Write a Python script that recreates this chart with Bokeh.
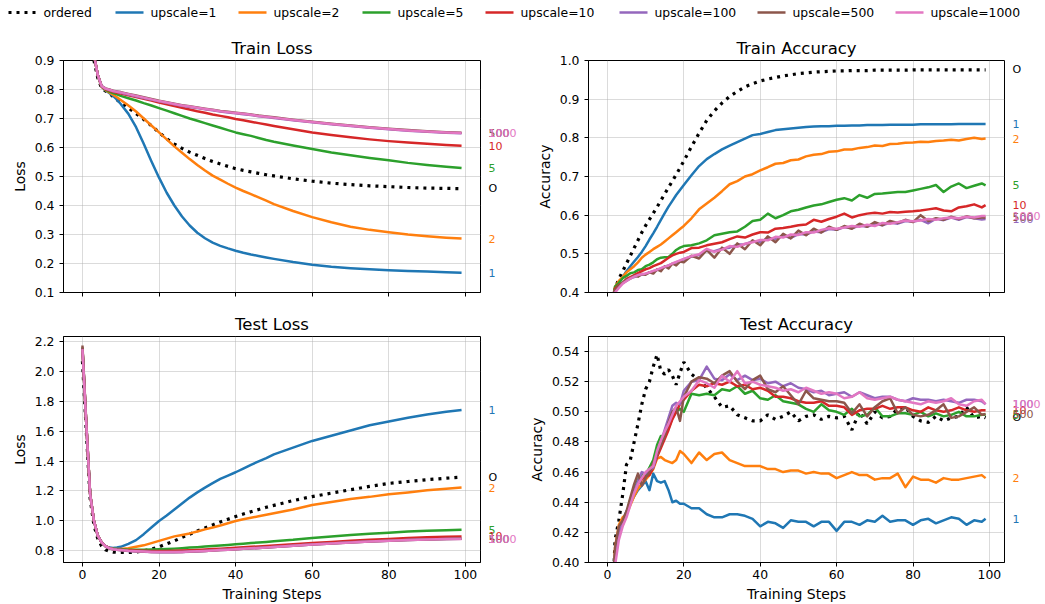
from bokeh.plotting import figure
from bokeh.layouts import column, row
from bokeh.models import FixedTicker, Range1d, PrintfTickFormatter, ColumnDataSource
from bokeh.core.properties import value
from bokeh.embed import file_html
from bokeh.resources import INLINE

FONT = "DejaVu Sans"

SERIES = ["ordered", "upscale=1", "upscale=2", "upscale=5", "upscale=10",
          "upscale=100", "upscale=500", "upscale=1000"]
END_TAGS = ["O", "1", "2", "5", "10", "100", "500", "1000"]
COLORS = ["#000000", "#1f77b4", "#ff7f0e", "#2ca02c", "#d62728",
          "#9467bd", "#8c564b", "#e377c2"]

X_TICKS = [0, 20, 40, 60, 80, 100]

# training steps at which values were read
X_LOSS = [0, 1, 2, 3, 4, 5, 6, 7, 8, 9,
          10, 12, 14, 16, 18, 20, 22, 24, 26, 28,
          30, 32, 34, 36, 38, 40, 42, 44, 46, 48,
          50, 55, 60, 65, 70, 75, 80, 85, 90, 95,
          99]
X_ACC = [0, 1, 2, 3, 4, 5, 6, 7, 8, 9,
         10, 11, 12, 13, 14, 15, 16, 17, 18, 19,
         20, 22, 24, 26, 28, 30, 32, 34, 36, 38,
         40, 42, 44, 46, 48, 50, 52, 54, 56, 58,
         60, 62, 64, 66, 68, 70, 72, 74, 76, 78,
         80, 82, 84, 86, 88, 90, 92, 94, 96, 98,
         99]

# ---------------- Train Loss ----------------
TRL_ORD = [1.45, 1.10, 0.96, 0.90, 0.84, 0.805, 0.795, 0.787, 0.776, 0.765,
           0.755, 0.737, 0.717, 0.697, 0.675, 0.652, 0.63, 0.612, 0.597, 0.584,
           0.573, 0.562, 0.552, 0.543, 0.535, 0.527, 0.521, 0.516, 0.511, 0.506,
           0.502, 0.492, 0.484, 0.477, 0.472, 0.468, 0.465, 0.462, 0.46, 0.459,
           0.458]
TRL_1 = [1.50, 1.15, 0.98, 0.92, 0.85, 0.81, 0.797, 0.788, 0.778, 0.765,
         0.75, 0.716, 0.67, 0.613, 0.553, 0.496, 0.444, 0.4, 0.362, 0.331,
         0.306, 0.287, 0.272, 0.261, 0.252, 0.244, 0.237, 0.231, 0.226, 0.221,
         0.216, 0.205, 0.196, 0.189, 0.184, 0.18, 0.177, 0.174, 0.172, 0.17,
         0.168]
TRL_2 = [1.50, 1.15, 0.98, 0.92, 0.85, 0.81, 0.798, 0.79, 0.782, 0.773,
         0.764, 0.745, 0.724, 0.70, 0.676, 0.652, 0.628, 0.604, 0.582, 0.56,
         0.54, 0.521, 0.503, 0.489, 0.475, 0.462, 0.45, 0.439, 0.428, 0.417,
         0.405, 0.381, 0.36, 0.342, 0.327, 0.316, 0.308, 0.30, 0.294, 0.289,
         0.286]
TRL_5 = [1.50, 1.15, 0.98, 0.92, 0.85, 0.81, 0.799, 0.793, 0.788, 0.783,
         0.778, 0.77, 0.762, 0.753, 0.745, 0.736, 0.727, 0.718, 0.709, 0.70,
         0.692, 0.684, 0.676, 0.668, 0.66, 0.652, 0.646, 0.64, 0.633, 0.626,
         0.62, 0.607, 0.595, 0.583, 0.573, 0.564, 0.556, 0.547, 0.54, 0.534,
         0.529]
TRL_10 = [1.50, 1.15, 0.98, 0.92, 0.85, 0.81, 0.801, 0.796, 0.792, 0.789,
          0.786, 0.78, 0.774, 0.768, 0.762, 0.755, 0.749, 0.743, 0.737, 0.731,
          0.725, 0.72, 0.714, 0.709, 0.704, 0.698, 0.694, 0.689, 0.684, 0.679,
          0.674, 0.663, 0.652, 0.643, 0.635, 0.628, 0.622, 0.617, 0.613, 0.609,
          0.606]
TRL_100 = [1.50, 1.15, 0.98, 0.92, 0.85, 0.812, 0.803, 0.799, 0.795, 0.792,
           0.789, 0.783, 0.777, 0.771, 0.765, 0.759, 0.754, 0.749, 0.744, 0.74,
           0.736, 0.732, 0.728, 0.724, 0.721, 0.718, 0.715, 0.712, 0.708, 0.705,
           0.702, 0.694, 0.687, 0.68, 0.674, 0.668, 0.663, 0.658, 0.654, 0.651,
           0.649]
TRL_500 = [1.50, 1.15, 0.98, 0.92, 0.85, 0.812, 0.804, 0.80, 0.796, 0.793,
           0.791, 0.785, 0.779, 0.773, 0.767, 0.761, 0.756, 0.751, 0.746, 0.742,
           0.738, 0.734, 0.73, 0.726, 0.723, 0.72, 0.717, 0.714, 0.71, 0.707,
           0.704, 0.696, 0.689, 0.682, 0.676, 0.67, 0.665, 0.66, 0.656, 0.653,
           0.651]
TRL_1000 = [1.50, 1.15, 0.98, 0.92, 0.85, 0.812, 0.803, 0.799, 0.795, 0.792,
            0.79, 0.784, 0.778, 0.772, 0.766, 0.76, 0.755, 0.75, 0.745, 0.741,
            0.737, 0.733, 0.729, 0.725, 0.722, 0.719, 0.716, 0.713, 0.709, 0.706,
            0.703, 0.695, 0.688, 0.681, 0.675, 0.669, 0.664, 0.659, 0.655, 0.652,
            0.65]

# ---------------- Test Loss ----------------
TEL_ORD = [2.07, 1.60, 1.15, 0.97, 0.88, 0.83, 0.805, 0.795, 0.79, 0.788,
           0.787, 0.787, 0.79, 0.798, 0.81, 0.825, 0.845, 0.865, 0.888, 0.91,
           0.932, 0.952, 0.972, 0.992, 1.01, 1.028, 1.045, 1.06, 1.075, 1.09,
           1.103, 1.135, 1.162, 1.185, 1.208, 1.23, 1.25, 1.263, 1.275, 1.285,
           1.292]
TEL_1 = [2.16, 1.65, 1.18, 1.0, 0.9, 0.855, 0.83, 0.82, 0.818, 0.82,
         0.825, 0.845, 0.87, 0.91, 0.955, 0.998, 1.035, 1.075, 1.115, 1.155,
         1.19, 1.222, 1.252, 1.28, 1.303, 1.325, 1.35, 1.375, 1.398, 1.42,
         1.445, 1.49, 1.535, 1.57, 1.605, 1.64, 1.665, 1.69, 1.712, 1.73,
         1.742]
TEL_2 = [2.16, 1.65, 1.18, 1.0, 0.9, 0.855, 0.83, 0.818, 0.812, 0.81,
         0.81, 0.815, 0.825, 0.835, 0.85, 0.865, 0.88, 0.895, 0.905, 0.915,
         0.928, 0.942, 0.955, 0.968, 0.983, 0.998, 1.01, 1.02, 1.03, 1.04,
         1.05, 1.075, 1.105, 1.125, 1.145, 1.16, 1.178, 1.19, 1.204, 1.215,
         1.222]
TEL_5 = [2.16, 1.65, 1.18, 1.0, 0.9, 0.855, 0.83, 0.818, 0.812, 0.81,
         0.808, 0.806, 0.806, 0.806, 0.807, 0.808, 0.81, 0.813, 0.816, 0.82,
         0.823, 0.827, 0.83, 0.834, 0.838, 0.842, 0.846, 0.85, 0.854, 0.858,
         0.862, 0.872, 0.885, 0.895, 0.905, 0.912, 0.92, 0.927, 0.933, 0.937,
         0.94]
TEL_10 = [2.16, 1.65, 1.18, 1.0, 0.9, 0.855, 0.83, 0.817, 0.81, 0.807,
          0.805, 0.802, 0.80, 0.798, 0.797, 0.797, 0.797, 0.798, 0.80, 0.802,
          0.804, 0.807, 0.81, 0.813, 0.816, 0.819, 0.822, 0.825, 0.828, 0.831,
          0.834, 0.842, 0.85, 0.858, 0.865, 0.872, 0.878, 0.884, 0.889, 0.893,
          0.895]
TEL_100 = [2.16, 1.65, 1.18, 1.0, 0.9, 0.855, 0.83, 0.816, 0.809, 0.805,
           0.802, 0.797, 0.794, 0.792, 0.79, 0.789, 0.789, 0.789, 0.79, 0.792,
           0.794, 0.797, 0.80, 0.803, 0.806, 0.809, 0.812, 0.815, 0.818, 0.821,
           0.824, 0.832, 0.84, 0.848, 0.855, 0.861, 0.866, 0.871, 0.875, 0.878,
           0.88]
TEL_500 = [2.175, 1.66, 1.185, 1.0, 0.9, 0.855, 0.83, 0.816, 0.809, 0.805,
           0.803, 0.798, 0.795, 0.793, 0.791, 0.79, 0.79, 0.79, 0.791, 0.793,
           0.795, 0.797, 0.80, 0.803, 0.806, 0.809, 0.812, 0.815, 0.818, 0.821,
           0.824, 0.832, 0.84, 0.847, 0.854, 0.86, 0.866, 0.871, 0.875, 0.878,
           0.88]
TEL_1000 = [2.15, 1.65, 1.18, 1.0, 0.9, 0.855, 0.83, 0.816, 0.809, 0.805,
            0.803, 0.798, 0.795, 0.793, 0.791, 0.79, 0.79, 0.79, 0.791, 0.793,
            0.795, 0.797, 0.80, 0.803, 0.806, 0.809, 0.812, 0.815, 0.818, 0.821,
            0.824, 0.832, 0.84, 0.847, 0.854, 0.86, 0.865, 0.87, 0.874, 0.877,
            0.878]

# ---------------- Train Accuracy ----------------
TRA_ORD = [0.30, 0.36, 0.41, 0.435, 0.455, 0.475, 0.495, 0.515, 0.535, 0.555,
           0.573, 0.589, 0.605, 0.621, 0.638, 0.655, 0.672, 0.688, 0.705, 0.722,
           0.74, 0.777, 0.812, 0.845, 0.87, 0.89, 0.907, 0.92, 0.932, 0.94,
           0.947, 0.952, 0.956, 0.96, 0.963, 0.966, 0.968, 0.97, 0.971, 0.972,
           0.973, 0.973, 0.974, 0.974, 0.974, 0.975, 0.975, 0.975, 0.975, 0.975,
           0.976, 0.976, 0.976, 0.976, 0.976, 0.976, 0.976, 0.976, 0.976, 0.976,
           0.976]
TRA_1 = [0.30, 0.36, 0.41, 0.425, 0.44, 0.455, 0.468, 0.48, 0.492, 0.505,
         0.52, 0.537, 0.553, 0.57, 0.588, 0.605, 0.622, 0.637, 0.652, 0.665,
         0.678, 0.703, 0.727, 0.745, 0.758, 0.77, 0.78, 0.789, 0.798, 0.807,
         0.81, 0.815, 0.82, 0.822, 0.824, 0.826, 0.828, 0.829, 0.83, 0.83,
         0.831, 0.831, 0.832, 0.832, 0.833, 0.833, 0.833, 0.834, 0.834, 0.834,
         0.834, 0.835, 0.835, 0.835, 0.835, 0.835, 0.836, 0.836, 0.836, 0.836,
         0.836]
TRA_2 = [0.30, 0.36, 0.415, 0.43, 0.44, 0.452, 0.46, 0.468, 0.478, 0.49,
         0.498, 0.505, 0.512, 0.518, 0.524, 0.532, 0.54, 0.548, 0.556, 0.564,
         0.572, 0.592, 0.615, 0.63, 0.645, 0.662, 0.68, 0.688, 0.70, 0.706,
         0.716, 0.724, 0.733, 0.735, 0.742, 0.744, 0.752, 0.756, 0.758, 0.764,
         0.765, 0.77, 0.77, 0.774, 0.776, 0.78, 0.779, 0.784, 0.785, 0.787,
         0.788, 0.79, 0.789, 0.792, 0.793, 0.795, 0.793, 0.797, 0.80, 0.797,
         0.798]
TRA_5 = [0.30, 0.36, 0.415, 0.425, 0.437, 0.443, 0.45, 0.452, 0.458, 0.46,
         0.468, 0.472, 0.478, 0.486, 0.49, 0.491, 0.492, 0.50, 0.51, 0.516,
         0.52, 0.522, 0.527, 0.535, 0.548, 0.552, 0.556, 0.558, 0.57, 0.585,
         0.588, 0.604, 0.592, 0.60, 0.61, 0.614, 0.62, 0.625, 0.628, 0.634,
         0.64, 0.644, 0.638, 0.652, 0.645, 0.655, 0.656, 0.658, 0.66, 0.66,
         0.664, 0.668, 0.672, 0.678, 0.66, 0.674, 0.682, 0.67, 0.676, 0.682,
         0.677]
TRA_10 = [0.30, 0.36, 0.41, 0.42, 0.425, 0.435, 0.44, 0.445, 0.45, 0.455,
          0.46, 0.463, 0.468, 0.472, 0.476, 0.483, 0.49, 0.496, 0.50, 0.503,
          0.505, 0.515, 0.516, 0.522, 0.526, 0.53, 0.538, 0.545, 0.542, 0.55,
          0.556, 0.555, 0.565, 0.567, 0.57, 0.574, 0.576, 0.588, 0.583, 0.59,
          0.596, 0.604, 0.594, 0.60, 0.604, 0.606, 0.604, 0.608, 0.607, 0.609,
          0.61, 0.612, 0.615, 0.618, 0.612, 0.61, 0.62, 0.623, 0.628, 0.62,
          0.626]
TRA_100 = [0.30, 0.36, 0.405, 0.415, 0.425, 0.43, 0.437, 0.44, 0.444, 0.446,
           0.448, 0.452, 0.455, 0.458, 0.462, 0.466, 0.47, 0.474, 0.478, 0.482,
           0.486, 0.493, 0.497, 0.508, 0.507, 0.513, 0.516, 0.524, 0.525, 0.532,
           0.531, 0.54, 0.539, 0.547, 0.541, 0.551, 0.55, 0.558, 0.556, 0.564,
           0.562, 0.569, 0.566, 0.573, 0.57, 0.578, 0.574, 0.581, 0.578, 0.585,
           0.583, 0.588, 0.579, 0.591, 0.587, 0.594, 0.588, 0.595, 0.592, 0.589,
           0.59]
TRA_500 = [0.30, 0.36, 0.405, 0.418, 0.425, 0.433, 0.436, 0.443, 0.441, 0.448,
           0.446, 0.452, 0.449, 0.46, 0.455, 0.468, 0.462, 0.475, 0.47, 0.48,
           0.478, 0.495, 0.488, 0.51, 0.49, 0.516, 0.50, 0.527, 0.512, 0.535,
           0.522, 0.545, 0.53, 0.552, 0.54, 0.56, 0.548, 0.565, 0.555, 0.57,
           0.562, 0.572, 0.565, 0.578, 0.57, 0.582, 0.574, 0.585, 0.58, 0.588,
           0.582, 0.60, 0.585, 0.592, 0.588, 0.596, 0.59, 0.597, 0.592, 0.594,
           0.594]
TRA_1000 = [0.30, 0.36, 0.40, 0.412, 0.423, 0.43, 0.436, 0.441, 0.445, 0.447,
            0.449, 0.452, 0.456, 0.459, 0.463, 0.467, 0.47, 0.475, 0.479, 0.483,
            0.487, 0.494, 0.499, 0.513, 0.505, 0.511, 0.52, 0.518, 0.526, 0.53,
            0.536, 0.535, 0.544, 0.542, 0.55, 0.549, 0.556, 0.555, 0.562, 0.566,
            0.565, 0.568, 0.572, 0.57, 0.575, 0.572, 0.58, 0.578, 0.582, 0.586,
            0.584, 0.586, 0.59, 0.588, 0.592, 0.594, 0.592, 0.596, 0.594, 0.598,
            0.598]

# ---------------- Test Accuracy ----------------
TEA_ORD = [0.30, 0.35, 0.415, 0.428, 0.445, 0.465, 0.468, 0.48, 0.492, 0.505,
           0.515, 0.52, 0.53, 0.538, 0.527, 0.525, 0.528, 0.524, 0.518, 0.526,
           0.533, 0.525, 0.521, 0.516, 0.51, 0.503, 0.504, 0.498, 0.496, 0.494,
           0.494, 0.498, 0.495, 0.497, 0.50, 0.494, 0.497, 0.498, 0.495, 0.497,
           0.496, 0.497, 0.488, 0.50, 0.492, 0.50, 0.496, 0.497, 0.502, 0.503,
           0.497, 0.494, 0.493, 0.497, 0.494, 0.496, 0.497, 0.503, 0.496, 0.497,
           0.496]
TEA_1 = [0.30, 0.35, 0.405, 0.422, 0.428, 0.434, 0.439, 0.444, 0.448, 0.451,
         0.454, 0.448, 0.459, 0.454, 0.453, 0.454, 0.448, 0.44, 0.441, 0.439,
         0.439, 0.436, 0.436, 0.432, 0.43, 0.43, 0.432, 0.432, 0.431, 0.429,
         0.424, 0.427, 0.426, 0.423, 0.428, 0.427, 0.427, 0.424, 0.427, 0.427,
         0.421, 0.427, 0.427, 0.425, 0.428, 0.427, 0.431, 0.427, 0.428, 0.428,
         0.425, 0.428, 0.429, 0.426, 0.428, 0.43, 0.429, 0.425, 0.428, 0.427,
         0.429]
TEA_2 = [0.30, 0.35, 0.41, 0.425, 0.43, 0.432, 0.438, 0.444, 0.449, 0.452,
         0.455, 0.458, 0.462, 0.469, 0.47, 0.468, 0.467, 0.466, 0.468, 0.474,
         0.472, 0.466, 0.473, 0.468, 0.472, 0.473, 0.468, 0.466, 0.464, 0.464,
         0.464, 0.462, 0.462, 0.46, 0.461, 0.461, 0.459, 0.46, 0.459, 0.459,
         0.456, 0.458, 0.46, 0.458, 0.458, 0.455, 0.456, 0.456, 0.459, 0.45,
         0.457, 0.455, 0.455, 0.453, 0.456, 0.455, 0.455, 0.456, 0.457, 0.458,
         0.456]
TEA_5 = [0.30, 0.35, 0.405, 0.42, 0.425, 0.432, 0.442, 0.448, 0.455, 0.458,
         0.458, 0.463, 0.468, 0.478, 0.484, 0.484, 0.489, 0.496, 0.50, 0.502,
         0.50, 0.512, 0.511, 0.512, 0.511, 0.515, 0.514, 0.517, 0.512, 0.514,
         0.509, 0.508, 0.511, 0.507, 0.506, 0.505, 0.502, 0.50, 0.505, 0.501,
         0.50, 0.498, 0.502, 0.497, 0.498, 0.503, 0.497, 0.497, 0.499, 0.499,
         0.498, 0.50, 0.497, 0.499, 0.497, 0.498, 0.50, 0.497, 0.497, 0.498,
         0.498]
TEA_10 = [0.30, 0.35, 0.405, 0.42, 0.427, 0.433, 0.44, 0.447, 0.452, 0.455,
          0.457, 0.458, 0.463, 0.47, 0.476, 0.482, 0.488, 0.495, 0.50, 0.505,
          0.508, 0.514, 0.518, 0.517, 0.519, 0.518, 0.52, 0.517, 0.518, 0.515,
          0.516, 0.514, 0.51, 0.51, 0.509, 0.507, 0.506, 0.506, 0.507, 0.504,
          0.504, 0.503, 0.498, 0.501, 0.502, 0.502, 0.504, 0.502, 0.503, 0.503,
          0.501, 0.50, 0.503, 0.501, 0.50, 0.501, 0.503, 0.501, 0.50, 0.501,
          0.501]
TEA_100 = [0.30, 0.35, 0.405, 0.42, 0.427, 0.433, 0.44, 0.447, 0.454, 0.46,
           0.459, 0.461, 0.463, 0.472, 0.48, 0.488, 0.496, 0.504, 0.506, 0.505,
           0.514, 0.52, 0.521, 0.53, 0.522, 0.521, 0.525, 0.521, 0.524, 0.521,
           0.522, 0.519, 0.52, 0.517, 0.519, 0.516, 0.515, 0.513, 0.514, 0.511,
           0.512, 0.513, 0.51, 0.513, 0.511, 0.509, 0.51, 0.51, 0.508, 0.507,
           0.509, 0.508, 0.508, 0.507, 0.508, 0.507, 0.506, 0.508, 0.508, 0.507,
           0.505]
TEA_500 = [0.30, 0.35, 0.41, 0.424, 0.428, 0.434, 0.443, 0.452, 0.459, 0.451,
           0.456, 0.46, 0.466, 0.472, 0.478, 0.484, 0.493, 0.50, 0.503, 0.494,
           0.51, 0.52, 0.523, 0.522, 0.519, 0.524, 0.527, 0.52, 0.515, 0.521,
           0.524, 0.515, 0.513, 0.517, 0.511, 0.505, 0.514, 0.509, 0.508, 0.507,
           0.507, 0.506, 0.499, 0.505, 0.497, 0.503, 0.507, 0.509, 0.499, 0.503,
           0.498, 0.497, 0.498, 0.501, 0.505, 0.496, 0.497, 0.50, 0.503, 0.498,
           0.4985]
TEA_1000 = [0.30, 0.34, 0.398, 0.415, 0.424, 0.43, 0.438, 0.446, 0.452, 0.456,
            0.46, 0.462, 0.464, 0.474, 0.481, 0.487, 0.492, 0.498, 0.504, 0.507,
            0.51, 0.514, 0.521, 0.519, 0.516, 0.524, 0.52, 0.527, 0.519, 0.52,
            0.518, 0.517, 0.516, 0.514, 0.515, 0.513, 0.516, 0.514, 0.512, 0.513,
            0.512, 0.509, 0.51, 0.513, 0.509, 0.508, 0.509, 0.51, 0.508, 0.507,
            0.506, 0.505, 0.507, 0.506, 0.507, 0.509, 0.505, 0.504, 0.507, 0.508,
            0.505]

TRAIN_LOSS = [TRL_ORD, TRL_1, TRL_2, TRL_5, TRL_10, TRL_100, TRL_500, TRL_1000]
TEST_LOSS = [TEL_ORD, TEL_1, TEL_2, TEL_5, TEL_10, TEL_100, TEL_500, TEL_1000]
TRAIN_ACC = [TRA_ORD, TRA_1, TRA_2, TRA_5, TRA_10, TRA_100, TRA_500, TRA_1000]
TEST_ACC = [TEA_ORD, TEA_1, TEA_2, TEA_5, TEA_10, TEA_100, TEA_500, TEA_1000]

for group, xs in ((TRAIN_LOSS, X_LOSS), (TEST_LOSS, X_LOSS),
                  (TRAIN_ACC, X_ACC), (TEST_ACC, X_ACC)):
    for s in group:
        assert len(s) == len(xs), (len(s), len(xs))

TICK_FS = "12.4px"
LABEL_FS = "14px"
TITLE_FS = "16.5px"
TAG_FS = "11px"
SOLID_W = 2.5
DOT_W = 3.2
DOT_DASH = "3 5"

# layout (pixels)
LEGEND_H = 24
TOP_B_ROW1, FRAME_H_ROW1, BOT_B_ROW1 = 36, 232, 14
TOP_B_ROW2, FRAME_H_ROW2, BOT_B_ROW2 = 30, 226, 42
LEFT_B_COL1, FRAME_W_COL1 = 63, 417
LEFT_B_COL2, FRAME_W_COL2 = 68, 416
GAP_R = 5
TAG_W_COL1, TAG_W_COL2 = 35, 36
LEGEND_X = [8, 115, 238, 362, 485, 619, 757, 895]   # legend entry starts
LEGEND_GLYPH_W = 28
LEGEND_TEXT_GAP = 35


def make_panel(title, ylabel, xs, series, yrange, yticks, yfmt, left_b,
               top_b, bottom_b, fw, fh, bottom_row):
    p = figure(frame_width=fw, frame_height=fh,
               x_range=Range1d(-4.95, 103.95), y_range=Range1d(*yrange),
               output_backend="svg", toolbar_location=None,
               min_border_left=left_b, min_border_right=GAP_R,
               min_border_top=top_b, min_border_bottom=bottom_b,
               title=title)
    p.title.text_font = FONT
    p.title.text_font_size = TITLE_FS
    p.title.text_font_style = "normal"
    p.title.text_color = "black"
    p.title.align = "center"
    p.title.standoff = 6
    p.outline_line_color = "black"
    p.outline_line_width = 1
    p.outline_line_alpha = 1

    for ax in (p.xaxis[0], p.yaxis[0]):
        ax.axis_line_color = "black"
        ax.major_tick_line_color = "black"
        ax.major_tick_out = 4
        ax.major_tick_in = 0
        ax.minor_tick_line_color = None
        ax.major_label_text_font = FONT
        ax.major_label_text_font_size = TICK_FS
        ax.major_label_text_color = "black"
        ax.axis_label_text_font = FONT
        ax.axis_label_text_font_size = LABEL_FS
        ax.axis_label_text_font_style = "normal"
        ax.axis_label_text_color = "black"

    p.xaxis.ticker = FixedTicker(ticks=X_TICKS)
    p.yaxis.ticker = FixedTicker(ticks=yticks)
    p.yaxis.formatter = PrintfTickFormatter(format=yfmt)
    p.yaxis.axis_label = ylabel
    p.yaxis.major_label_standoff = 5
    p.yaxis.axis_label_standoff = 4
    if bottom_row:
        p.xaxis.axis_label = "Training Steps"
        p.xaxis.major_label_standoff = 3
        p.xaxis.axis_label_standoff = 4
    else:
        p.xaxis.major_label_overrides = {t: "" for t in X_TICKS}
        p.xaxis.major_label_text_font_size = "1px"
        p.xaxis.major_label_standoff = 0

    p.grid.grid_line_color = "#b0b0b0"
    p.grid.grid_line_alpha = 0.45
    p.grid.grid_line_width = 1

    for i, ys in enumerate(series):
        if i == 0:
            p.line(xs, ys, line_color=COLORS[i], line_width=DOT_W, line_dash=DOT_DASH)
        else:
            p.line(xs, ys, line_color=COLORS[i], line_width=SOLID_W, line_join="round")
    return p


def make_tags(main, series, top_b, bottom_b, fh, width):
    t = figure(frame_width=width, frame_height=fh,
               x_range=Range1d(0, width), y_range=main.y_range,
               x_axis_type=None, y_axis_type=None,
               output_backend="svg", toolbar_location=None,
               min_border_left=0, min_border_right=0,
               min_border_top=top_b, min_border_bottom=bottom_b)
    t.outline_line_color = None
    t.grid.visible = False
    src = ColumnDataSource(dict(x=[3] * len(series),
                                y=[s[-1] for s in series],
                                text=END_TAGS, color=COLORS))
    t.text("x", "y", text="text", text_color="color", source=src,
           text_font=value(FONT), text_font_size=value(TAG_FS),
           text_baseline="middle", text_align="left")
    return t


p_tl = make_panel("Train Loss", "Loss", X_LOSS, TRAIN_LOSS, (0.1, 0.9),
                  [0.1, 0.2, 0.3, 0.4, 0.5, 0.6, 0.7, 0.8, 0.9], "%.1f",
                  LEFT_B_COL1, TOP_B_ROW1, BOT_B_ROW1, FRAME_W_COL1, FRAME_H_ROW1, False)
p_tr = make_panel("Train Accuracy", "Accuracy", X_ACC, TRAIN_ACC, (0.4, 1.0),
                  [0.4, 0.5, 0.6, 0.7, 0.8, 0.9, 1.0], "%.1f",
                  LEFT_B_COL2, TOP_B_ROW1, BOT_B_ROW1, FRAME_W_COL2, FRAME_H_ROW1, False)
p_bl = make_panel("Test Loss", "Loss", X_LOSS, TEST_LOSS, (0.72, 2.235),
                  [0.8, 1.0, 1.2, 1.4, 1.6, 1.8, 2.0, 2.2], "%.1f",
                  LEFT_B_COL1, TOP_B_ROW2, BOT_B_ROW2, FRAME_W_COL1, FRAME_H_ROW2, True)
p_br = make_panel("Test Accuracy", "Accuracy", X_ACC, TEST_ACC, (0.40, 0.55),
                  [0.40, 0.42, 0.44, 0.46, 0.48, 0.50, 0.52, 0.54], "%.2f",
                  LEFT_B_COL2, TOP_B_ROW2, BOT_B_ROW2, FRAME_W_COL2, FRAME_H_ROW2, True)

t_tl = make_tags(p_tl, TRAIN_LOSS, TOP_B_ROW1, BOT_B_ROW1, FRAME_H_ROW1, TAG_W_COL1)
t_tr = make_tags(p_tr, TRAIN_ACC, TOP_B_ROW1, BOT_B_ROW1, FRAME_H_ROW1, TAG_W_COL2)
t_bl = make_tags(p_bl, TEST_LOSS, TOP_B_ROW2, BOT_B_ROW2, FRAME_H_ROW2, TAG_W_COL1)
t_br = make_tags(p_br, TEST_ACC, TOP_B_ROW2, BOT_B_ROW2, FRAME_H_ROW2, TAG_W_COL2)

# legend strip across the top
TOTAL_W = (LEFT_B_COL1 + FRAME_W_COL1 + GAP_R + TAG_W_COL1 +
           LEFT_B_COL2 + FRAME_W_COL2 + GAP_R + TAG_W_COL2)
leg = figure(width=TOTAL_W, height=LEGEND_H, x_axis_type=None, y_axis_type=None,
             toolbar_location=None, output_backend="svg", min_border=0,
             x_range=Range1d(0, TOTAL_W), y_range=Range1d(0, LEGEND_H))
leg.outline_line_color = None
leg.grid.visible = False
mid = LEGEND_H / 2
for i, name in enumerate(SERIES):
    x0 = LEGEND_X[i]
    if i == 0:
        leg.line([x0, x0 + LEGEND_GLYPH_W], [mid, mid], line_color=COLORS[i],
                 line_width=DOT_W, line_dash=DOT_DASH)
    else:
        leg.line([x0, x0 + LEGEND_GLYPH_W], [mid, mid], line_color=COLORS[i],
                 line_width=SOLID_W)
leg.text(x=[x + LEGEND_TEXT_GAP for x in LEGEND_X], y=[mid] * len(SERIES), text=SERIES,
         text_font=value(FONT), text_font_size=value(TICK_FS), text_color="black",
         text_baseline="middle", text_align="left")

layout = column(leg, row(p_tl, t_tl, p_tr, t_tr), row(p_bl, t_bl, p_br, t_br))

open("out.html", "w").write(file_html(layout, INLINE))
